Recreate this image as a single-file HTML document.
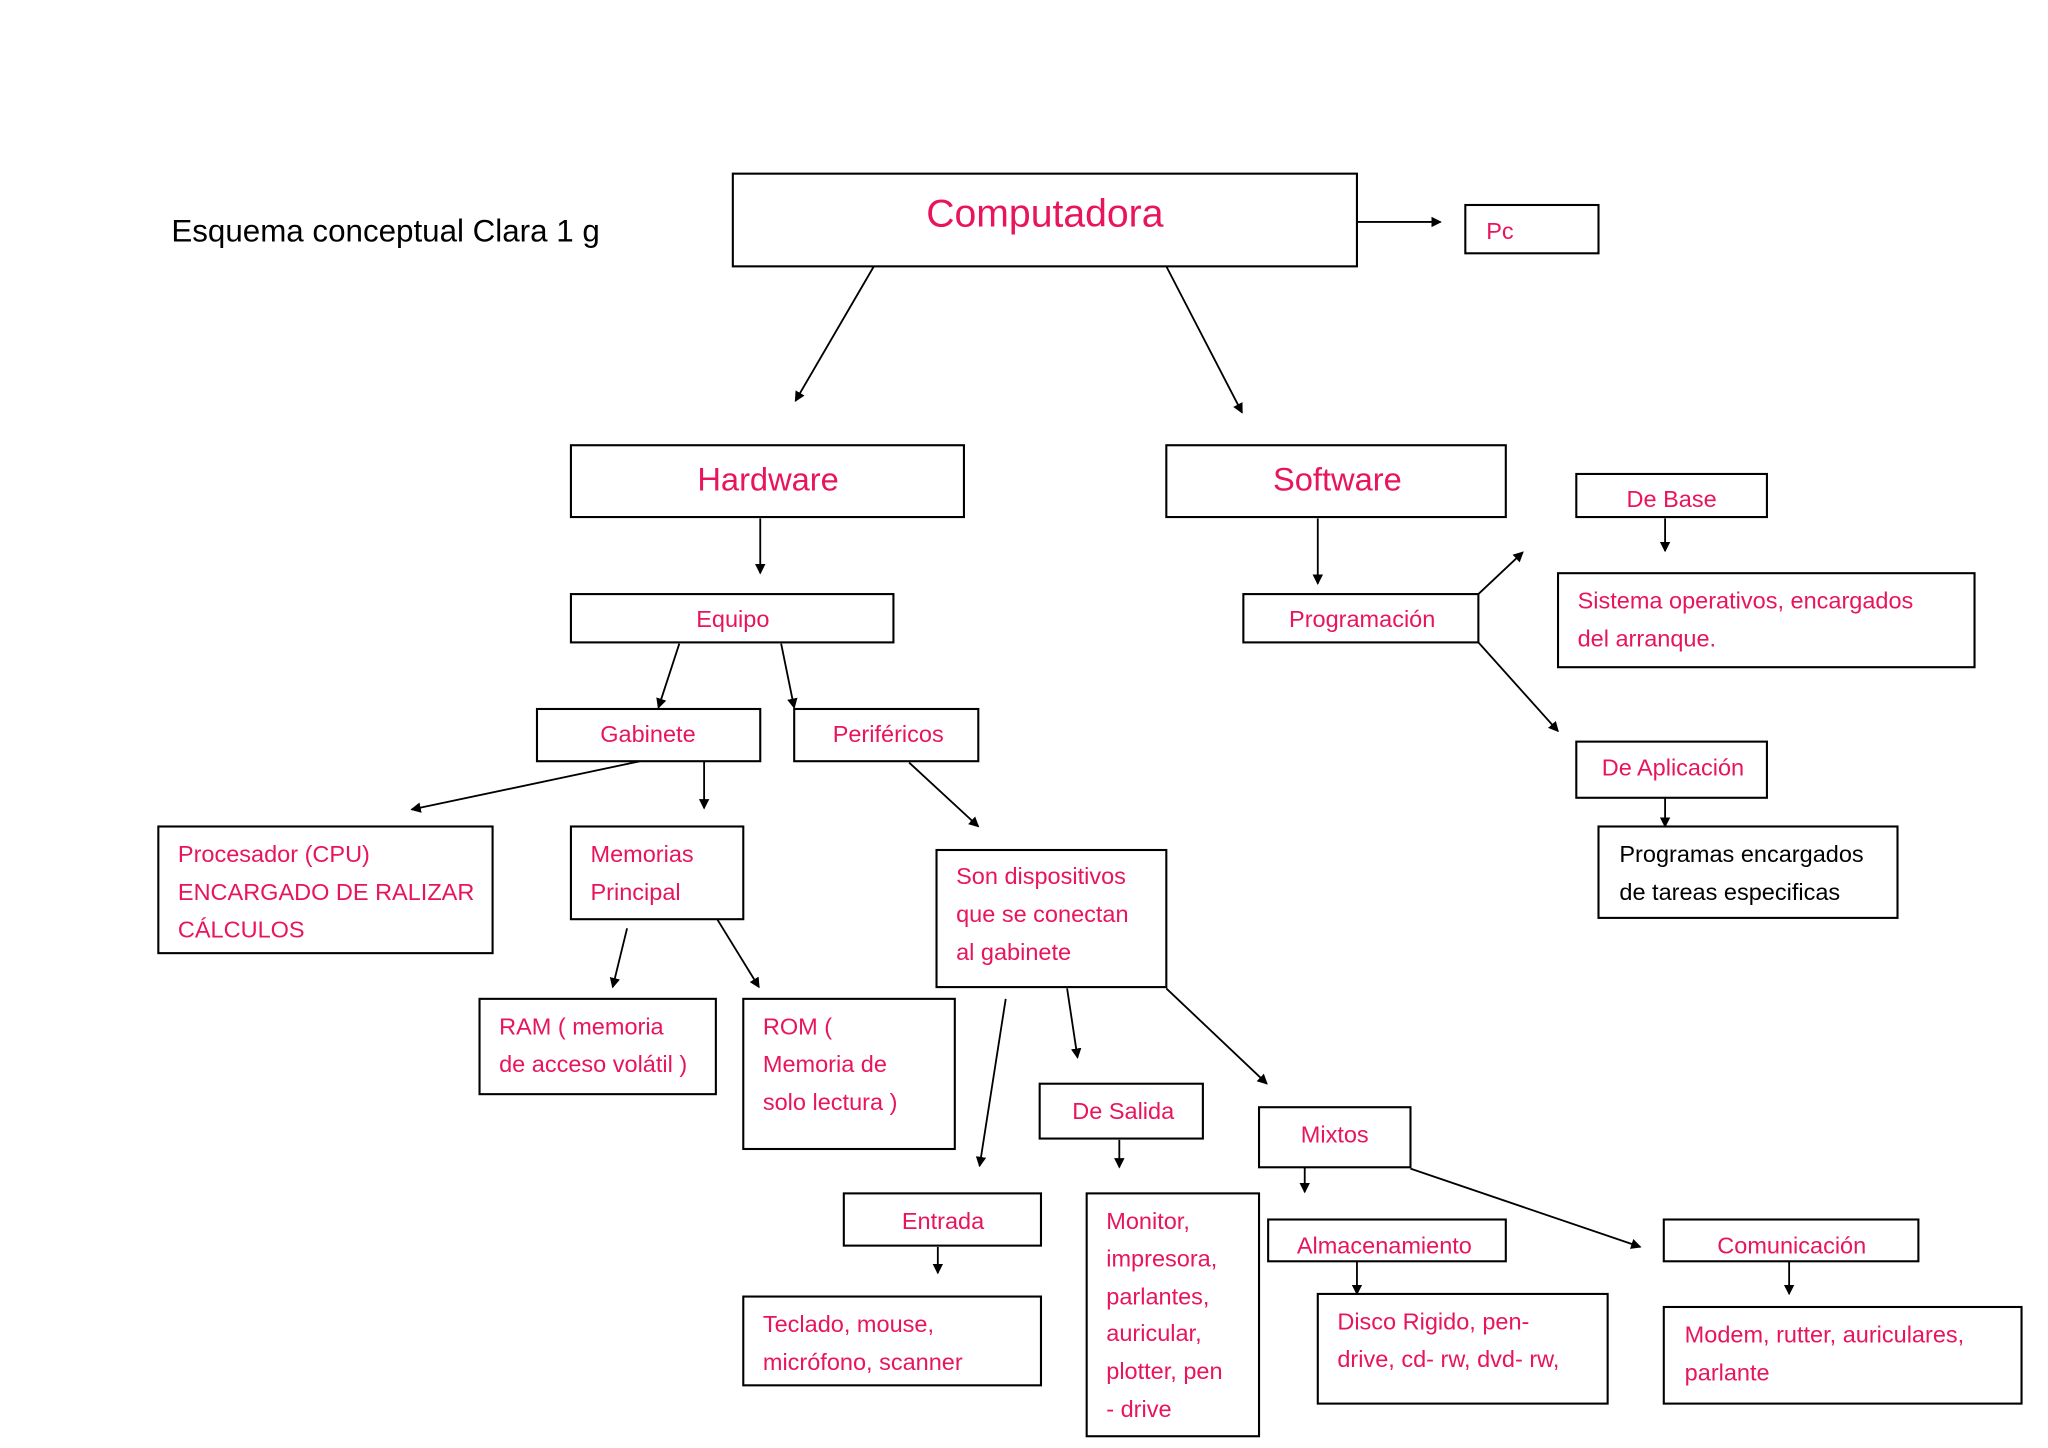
<!DOCTYPE html>
<html><head><meta charset="utf-8"><style>html,body{margin:0;padding:0;background:#fff}svg{display:block}</style></head>
<body>
<svg width="2048" height="1448" viewBox="0 0 1568 1109" xmlns="http://www.w3.org/2000/svg" font-family="Liberation Sans, sans-serif">
<defs><marker id="a" markerWidth="8" markerHeight="8" refX="7" refY="4" orient="auto" markerUnits="userSpaceOnUse"><path d="M0,0 L8,4 L0,8 z" fill="#000"/></marker></defs>
<rect width="1568" height="1109" fill="#fff"/>
<g fill="none" stroke="#000" stroke-width="1.6">
<rect x="561" y="133" width="478" height="71"/>
<rect x="1122" y="157" width="102" height="37"/>
<rect x="437" y="341" width="301" height="55"/>
<rect x="893" y="341" width="260" height="55"/>
<rect x="437" y="455" width="247" height="37"/>
<rect x="952" y="455" width="180" height="37"/>
<rect x="1207" y="363" width="146" height="33"/>
<rect x="1193" y="439" width="319" height="72"/>
<rect x="1207" y="568" width="146" height="43"/>
<rect x="1224" y="633" width="229" height="70"/>
<rect x="411" y="543" width="171" height="40"/>
<rect x="608" y="543" width="141" height="40"/>
<rect x="121" y="633" width="256" height="97"/>
<rect x="437" y="633" width="132" height="71"/>
<rect x="367" y="765" width="181" height="73"/>
<rect x="569" y="765" width="162" height="115"/>
<rect x="717" y="651" width="176" height="105"/>
<rect x="796" y="830" width="125" height="42"/>
<rect x="964" y="848" width="116" height="46"/>
<rect x="646" y="914" width="151" height="40"/>
<rect x="569" y="993" width="228" height="68"/>
<rect x="832" y="914" width="132" height="186"/>
<rect x="971" y="934" width="182" height="32"/>
<rect x="1009" y="991" width="222" height="84"/>
<rect x="1274" y="934" width="195" height="32"/>
<rect x="1274" y="1001" width="274" height="74"/>
</g>
<g stroke="#000" stroke-width="1.4" marker-end="url(#a)">
<line x1="1039" y1="170" x2="1103" y2="170"/>
<line x1="669" y1="204" x2="609" y2="307"/>
<line x1="893" y1="204" x2="951" y2="316"/>
<line x1="582" y1="397" x2="582" y2="439"/>
<line x1="1009" y1="397" x2="1009" y2="447"/>
<line x1="1132" y1="455" x2="1166" y2="423"/>
<line x1="1132" y1="492" x2="1193" y2="560"/>
<line x1="1275" y1="397" x2="1275" y2="422"/>
<line x1="1275" y1="611" x2="1275" y2="633"/>
<line x1="520" y1="493" x2="504" y2="542"/>
<line x1="598" y1="493" x2="608" y2="542"/>
<line x1="490" y1="583" x2="315" y2="620"/>
<line x1="539" y1="583" x2="539" y2="619"/>
<line x1="696" y1="584" x2="749" y2="633"/>
<line x1="480" y1="711" x2="469" y2="756"/>
<line x1="549" y1="704" x2="581" y2="756"/>
<line x1="770" y1="765" x2="750" y2="893"/>
<line x1="817" y1="757" x2="825" y2="810"/>
<line x1="893" y1="757" x2="970" y2="830"/>
<line x1="857" y1="873" x2="857" y2="894"/>
<line x1="999" y1="894" x2="999" y2="913"/>
<line x1="1080" y1="895" x2="1256" y2="955"/>
<line x1="718" y1="955" x2="718" y2="975"/>
<line x1="1039" y1="966" x2="1039" y2="991"/>
<line x1="1370" y1="966" x2="1370" y2="991"/>
</g>
<text x="131" y="177" font-size="24" dominant-baseline="central" fill="#000">Esquema  conceptual  Clara 1 g</text>
<g fill="#e8145c" dominant-baseline="central">
<g text-anchor="middle">
<text x="800" y="164" font-size="30">Computadora</text>
<text x="588" y="367" font-size="25">Hardware</text>
<text x="1024" y="367" font-size="25">Software</text>
<text x="561" y="474" font-size="18">Equipo</text>
<text x="1043" y="474" font-size="18">Programación</text>
<text x="1280" y="382" font-size="18">De Base</text>
<text x="1281" y="588" font-size="18">De Aplicación</text>
<text x="496" y="562" font-size="18">Gabinete</text>
<text x="680" y="562" font-size="18">Periféricos</text>
<text x="860" y="851" font-size="18">De Salida</text>
<text x="1022" y="869" font-size="18">Mixtos</text>
<text x="722" y="935" font-size="18">Entrada</text>
<text x="1060" y="954" font-size="18">Almacenamiento</text>
<text x="1372" y="954" font-size="18">Comunicación</text>
</g>
<g font-size="18">
<text x="1138" y="177">Pc</text>
<text x="1208" y="460">Sistema operativos, encargados</text>
<text x="1208" y="489">del arranque.</text>
<text x="136" y="654">Procesador (CPU)</text>
<text x="136" y="683">ENCARGADO DE RALIZAR</text>
<text x="136" y="712">CÁLCULOS</text>
<text x="452" y="654">Memorias</text>
<text x="452" y="683">Principal</text>
<text x="382" y="786">RAM ( memoria</text>
<text x="382" y="815">de acceso volátil )</text>
<text x="584" y="786">ROM (</text>
<text x="584" y="815">Memoria de</text>
<text x="584" y="844">solo lectura )</text>
<text x="732" y="671">Son dispositivos</text>
<text x="732" y="700">que se conectan</text>
<text x="732" y="729">al gabinete</text>
<text x="584" y="1014">Teclado, mouse,</text>
<text x="584" y="1043">micrófono, scanner</text>
<text x="847" y="935">Monitor,</text>
<text x="847" y="964">impresora,</text>
<text x="847" y="993">parlantes,</text>
<text x="847" y="1021">auricular,</text>
<text x="847" y="1050">plotter, pen</text>
<text x="847" y="1079">- drive</text>
<text x="1024" y="1012">Disco Rigido, pen-</text>
<text x="1024" y="1041">drive, cd- rw, dvd-  rw,</text>
<text x="1290" y="1022">Modem, rutter, auriculares,</text>
<text x="1290" y="1051">parlante</text>
</g>
</g>
<g fill="#000" font-size="18" dominant-baseline="central">
<text x="1240" y="654">Programas encargados</text>
<text x="1240" y="683">de tareas especificas</text>
</g>
</svg>
</body></html>
